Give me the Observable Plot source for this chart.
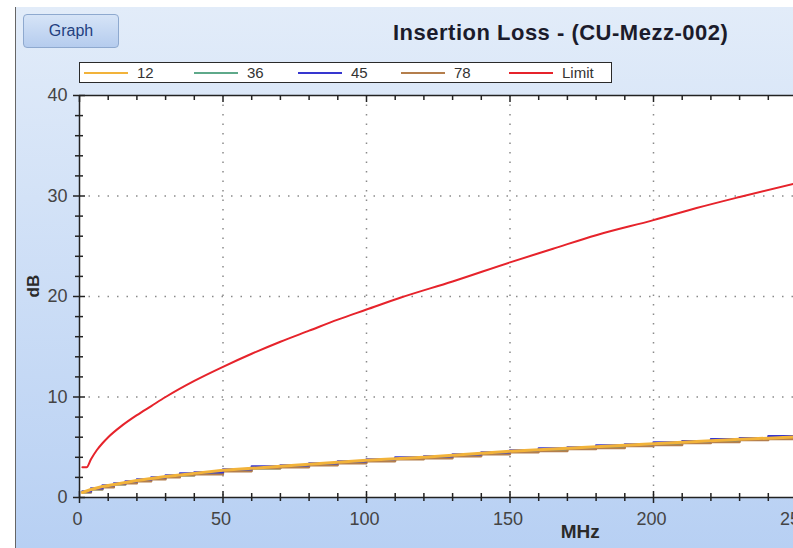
<!DOCTYPE html>
<html>
<head>
<meta charset="utf-8">
<script src="https://cdn.jsdelivr.net/npm/d3@7"></script>
<script src="https://cdn.jsdelivr.net/npm/@observablehq/plot@0.6"></script>
<style>
  html, body { margin: 0; padding: 0; overflow: hidden; background: #fff; }
  #wrap { position: relative; width: 793px; height: 548px; overflow: hidden; background: #fff;
          font-family: "Liberation Sans", Arial, sans-serif; }
  #panel { position: absolute; left: 15px; top: 7px; width: 800px; height: 560px;
           border-left: 1.5px solid #666; background: linear-gradient(#e2ecf9, #b6cff3); }
  #chart { position: absolute; left: 0; top: 0; }
  #btn { position: absolute; left: 23px; top: 14px; width: 94px; height: 32px; border: 1px solid #8ea9cf;
         border-radius: 4px; background: linear-gradient(#d6e4f7, #b5ccee); color: #23407f;
         font-size: 16px; line-height: 32px; text-align: center; }
  #title { position: absolute; left: 393px; top: 20px; font-weight: bold; font-size: 22px;
           letter-spacing: 0.5px; color: #1b1b2b; white-space: nowrap; }
  #legend { position: absolute; left: 79px; top: 62px; width: 531px; height: 19px;
            border: 1.5px solid #2a2a2a; background: #fff; }
  .item { position: absolute; top: 0; height: 19px; display: flex; align-items: center;
          font-size: 15px; color: #333; }
  .sw { display: inline-block; width: 44px; height: 2px; margin-right: 9px; }
</style>
</head>
<body>
<div id="wrap">
  <div id="panel"></div>
  <div id="chart"></div>
  <div id="btn">Graph</div>
  <div id="title">Insertion Loss - (CU-Mezz-002)</div>
  <div id="legend"></div>
</div>
<script>
// ---- data ----
const seriesNames = ["12", "36", "45", "78", "Limit"];
const seriesColors = ["#f2b33a", "#5ea98a", "#3636cf", "#b47e4c", "#e6232b"];

const limitFreq = [1, 2.5, 4, 6, 8, 10, 15, 20, 25, 30, 40, 50, 60, 70, 80, 90, 100, 112, 130, 150, 165, 180, 200, 215, 230, 250];
const limitDb   = [3.0, 3.0, 3.8, 4.7, 5.4, 6.0, 7.2, 8.2, 9.1, 10.0, 11.6, 13.0, 14.3, 15.5, 16.6, 17.7, 18.7, 19.9, 21.5, 23.4, 24.75, 26.1, 27.6, 28.8, 29.9, 31.3];

const pairFreq = [1, 4, 8, 12, 16, 20, 25, 30, 35, 40, 50, 60, 70, 80, 90, 100, 110, 120, 130, 140, 150, 160, 170, 180, 190, 200, 210, 220, 230, 240, 250];
const pair12 = [0.5, 0.8, 1.1, 1.3, 1.5, 1.7, 1.9, 2.1, 2.25, 2.4, 2.7, 2.9, 3.1, 3.3, 3.5, 3.7, 3.85, 4.0, 4.2, 4.4, 4.6, 4.75, 4.9, 5.05, 5.2, 5.35, 5.5, 5.65, 5.8, 5.9, 6.05];
const pair36 = [0.5, 0.8, 1.1, 1.3, 1.5, 1.7, 1.9, 2.1, 2.2, 2.4, 2.7, 2.9, 3.1, 3.3, 3.5, 3.7, 3.9, 4.0, 4.2, 4.4, 4.6, 4.7, 4.9, 5.0, 5.2, 5.3, 5.5, 5.6, 5.8, 5.9, 6.0];
const pair45 = [0.6, 0.9, 1.2, 1.4, 1.6, 1.8, 2.0, 2.2, 2.4, 2.5, 2.8, 3.1, 3.2, 3.4, 3.6, 3.8, 4.0, 4.1, 4.3, 4.5, 4.7, 4.9, 5.0, 5.2, 5.3, 5.5, 5.6, 5.8, 5.9, 6.1, 6.2];
const pair78 = [0.5, 0.8, 1.0, 1.3, 1.4, 1.6, 1.8, 2.0, 2.2, 2.3, 2.6, 2.9, 3.0, 3.2, 3.4, 3.6, 3.8, 3.9, 4.1, 4.3, 4.5, 4.6, 4.8, 4.9, 5.1, 5.2, 5.4, 5.5, 5.7, 5.8, 5.9];

const xTicks = [0, 50, 100, 150, 200, 250];
const yTicks = [0, 10, 20, 30, 40];
const xTitle = "MHz";
const yTitle = "dB";

// ---- build tables ----
const pairTable = (vals, name) => pairFreq.map((f, i) => ({f, db: vals[i], name}));
const d12 = pairTable(pair12, "12");
const d36 = pairTable(pair36, "36");
const d45 = pairTable(pair45, "45");
const d78 = pairTable(pair78, "78");
const dLimit = limitFreq.map((f, i) => ({f, db: limitDb[i], name: "Limit"}));
const col = Object.fromEntries(seriesNames.map((n, i) => [n, seriesColors[i]]));

const xMinor = d3.range(0, 251, 10).filter(v => v % 50 !== 0);
const yMinor = d3.range(0, 41, 2).filter(v => v % 10 !== 0);
const axisStroke = "#222";
const labelFill = "#444";

const chart = Plot.plot({
  width: 800,
  height: 548,
  marginLeft: 79,
  marginRight: 3.5,
  marginTop: 95,
  marginBottom: 51,
  style: {background: "transparent", maxWidth: "none", fontFamily: "'Liberation Sans', Arial, sans-serif", overflow: "hidden"},
  x: {domain: [0, 250]},
  y: {domain: [0, 40]},
  marks: [
    Plot.frame({fill: "white", stroke: null}),
    Plot.gridX(xTicks.filter(v => v > 0 && v < 250), {stroke: "#8a8a8a", strokeOpacity: 1, strokeWidth: 1.5, strokeDasharray: "1.5,8"}),
    Plot.gridY(yTicks.filter(v => v > 0 && v < 40), {stroke: "#8a8a8a", strokeOpacity: 1, strokeWidth: 1.5, strokeDasharray: "1.5,8"}),
    Plot.line(d36, {x: "f", y: "db", stroke: col["36"], strokeWidth: 2.2, curve: "step-after", clip: true}),
    Plot.line(d78, {x: "f", y: "db", stroke: col["78"], strokeWidth: 2.2, curve: "step-after", clip: true}),
    Plot.line(d45, {x: "f", y: "db", stroke: col["45"], strokeWidth: 2.2, curve: "step-after", clip: true}),
    Plot.line(d12, {x: "f", y: "db", stroke: col["12"], strokeWidth: 3, clip: true}),
    Plot.line(dLimit, {x: "f", y: "db", stroke: col["Limit"], strokeWidth: 2, curve: "monotone-x", clip: true}),
    Plot.ruleY([0], {stroke: axisStroke, strokeWidth: 1.5}),
    Plot.ruleY([40], {stroke: axisStroke, strokeWidth: 1.5}),
    Plot.ruleX([0], {stroke: axisStroke, strokeWidth: 1.5}),
    // bottom axis ticks (crossing the axis line)
    Plot.axisX(xTicks, {anchor: "bottom", tickSize: 12, dy: -6, fill: "none", stroke: axisStroke, strokeWidth: 1.5, label: null}),
    Plot.axisX(xMinor, {anchor: "bottom", tickSize: 8, dy: -4, fill: "none", stroke: axisStroke, strokeWidth: 1.5, label: null}),
    Plot.axisX(xTicks, {anchor: "bottom", tickSize: 0, tickPadding: 15, fontSize: 18, fill: labelFill, label: null, dx: -2}),
    // top axis ticks pointing inward
    Plot.axisX(xTicks, {anchor: "top", tickSize: 6, dy: 6, fill: "none", stroke: axisStroke, strokeWidth: 1.5, label: null}),
    Plot.axisX(xMinor, {anchor: "top", tickSize: 4, dy: 4, fill: "none", stroke: axisStroke, strokeWidth: 1.5, label: null}),
    // left axis
    Plot.axisY(yTicks, {anchor: "left", tickSize: 12, dx: 6, fill: "none", stroke: axisStroke, strokeWidth: 1.5, label: null}),
    Plot.axisY(yMinor, {anchor: "left", tickSize: 8, dx: 4, fill: "none", stroke: axisStroke, strokeWidth: 1.5, label: null}),
    Plot.axisY(yTicks, {anchor: "left", tickSize: 0, tickPadding: 12, fontSize: 18, fill: labelFill, label: null}),
    // axis titles
    Plot.text([xTitle], {text: d => d, frameAnchor: "bottom", dx: 142, dy: 40, fontSize: 19, fontWeight: "bold", fill: "#2a2a2a"}),
    Plot.text([yTitle], {text: d => d, frameAnchor: "left", dx: -46, dy: 1, rotate: -90, fontSize: 17, fontWeight: "bold", fill: "#2a2a2a"})
  ]
});
document.getElementById("chart").appendChild(chart);

// legend from series
const legendLeft = [4, 114, 218, 321, 429];
const legend = d3.select("#legend");
seriesNames.forEach((n, i) => {
  const it = legend.append("div").attr("class", "item").style("left", legendLeft[i] + "px");
  it.append("span").attr("class", "sw").style("background", seriesColors[i]);
  it.append("span").text(n);
});
</script>
</body>
</html>
